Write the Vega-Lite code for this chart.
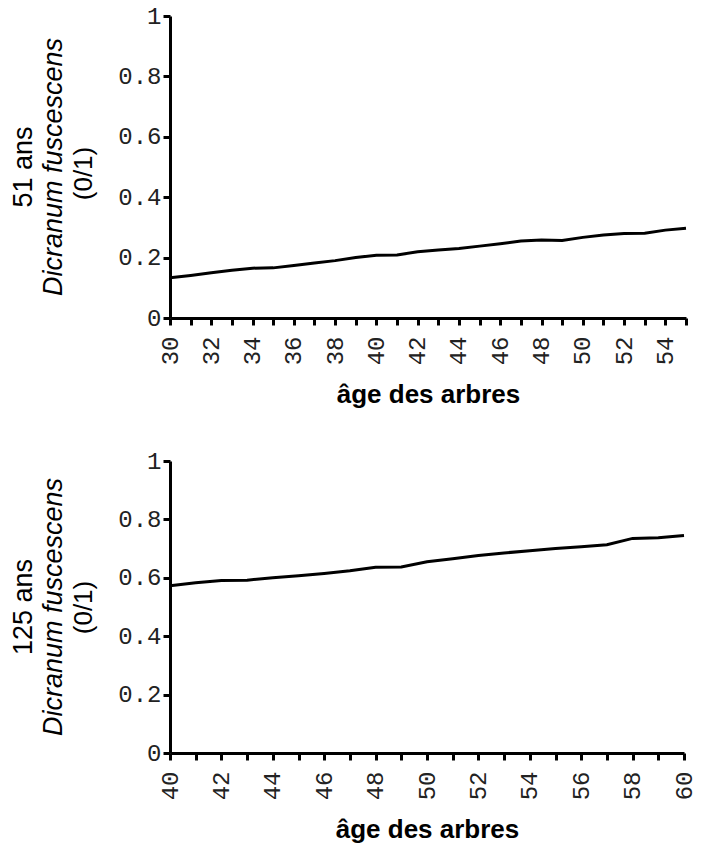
{
  "$schema": "https://vega.github.io/schema/vega-lite/v6.json",
  "background": "white",
  "padding": {"left": 9, "top": 4, "right": 10, "bottom": 0},
  "spacing": 41,
  "config": {
    "view": {"stroke": null},
    "axis": {
      "grid": false,
      "domainColor": "black",
      "domainWidth": 3,
      "tickColor": "black",
      "tickWidth": 3,
      "tickSize": 7,
      "labelFont": "Liberation Mono",
      "labelFontSize": 24,
      "labelColor": "#222",
      "titleFont": "Liberation Sans",
      "titleFontSize": 26,
      "titleColor": "black"
    },
    "title": {"font": "Liberation Sans", "fontSize": 27, "fontWeight": "normal", "color": "black", "subtitleFont": "Liberation Sans", "subtitleFontSize": 27, "subtitleFontStyle": "italic", "subtitleColor": "black"}
  },
  "vconcat": [
    {
      "width": 516,
      "height": 302,
      "title": {"text": "51 ans", "subtitle": "Dicranum fuscescens", "orient": "left", "anchor": "middle", "offset": 3, "subtitlePadding": 3},
      "data": {"values": [
        {"age": 30, "p": 0.133}, {"age": 31, "p": 0.141}, {"age": 32, "p": 0.150}, {"age": 33, "p": 0.158},
        {"age": 34, "p": 0.165}, {"age": 35, "p": 0.166}, {"age": 36, "p": 0.174}, {"age": 37, "p": 0.182},
        {"age": 38, "p": 0.190}, {"age": 39, "p": 0.200}, {"age": 40, "p": 0.208}, {"age": 41, "p": 0.209},
        {"age": 42, "p": 0.219}, {"age": 43, "p": 0.225}, {"age": 44, "p": 0.230}, {"age": 45, "p": 0.238},
        {"age": 46, "p": 0.246}, {"age": 47, "p": 0.255}, {"age": 48, "p": 0.258}, {"age": 49, "p": 0.257},
        {"age": 50, "p": 0.267}, {"age": 51, "p": 0.275}, {"age": 52, "p": 0.280}, {"age": 53, "p": 0.281},
        {"age": 54, "p": 0.291}, {"age": 55, "p": 0.297}
      ]},
      "mark": {"type": "line", "color": "black", "strokeWidth": 3},
      "encoding": {
        "x": {"field": "age", "type": "quantitative", "scale": {"domain": [30, 55], "nice": false, "zero": false},
          "axis": {"title": "âge des arbres", "titleFontWeight": "bold", "titlePadding": 17, "labelAngle": -90, "labelPadding": 11,
            "domainWidth": 3, "tickWidth": 3, "tickSize": 7, "domainColor": "black", "tickColor": "black",
            "values": [30,31,32,33,34,35,36,37,38,39,40,41,42,43,44,45,46,47,48,49,50,51,52,53,54,55],
            "labelExpr": "datum.value % 2 == 0 ? datum.label : ''", "labelOverlap": false, "labelFlush": false}},
        "y": {"field": "p", "type": "quantitative", "scale": {"domain": [0, 1], "nice": false},
          "axis": {"title": "(0/1)", "titleFontWeight": "normal", "titlePadding": 21, "titleY": 157, "values": [0, 0.2, 0.4, 0.6, 0.8, 1],
            "domainWidth": 3, "tickWidth": 3, "tickSize": 7, "domainColor": "black", "tickColor": "black",
            "labelExpr": "datum.value == 0 ? '0' : datum.value == 1 ? '1' : format(datum.value, '.1f')", "labelPadding": 2, "labelFlush": false}}
      }
    },
    {
      "width": 514,
      "height": 292,
      "title": {"text": "125 ans", "subtitle": "Dicranum fuscescens", "orient": "left", "anchor": "middle", "offset": 3, "subtitlePadding": 3},
      "data": {"values": [
        {"age": 40, "p": 0.573}, {"age": 41, "p": 0.583}, {"age": 42, "p": 0.591}, {"age": 43, "p": 0.592},
        {"age": 44, "p": 0.600}, {"age": 45, "p": 0.607}, {"age": 46, "p": 0.615}, {"age": 47, "p": 0.624},
        {"age": 48, "p": 0.636}, {"age": 49, "p": 0.637}, {"age": 50, "p": 0.655}, {"age": 51, "p": 0.665},
        {"age": 52, "p": 0.676}, {"age": 53, "p": 0.685}, {"age": 54, "p": 0.693}, {"age": 55, "p": 0.700},
        {"age": 56, "p": 0.706}, {"age": 57, "p": 0.713}, {"age": 58, "p": 0.735}, {"age": 59, "p": 0.737},
        {"age": 60, "p": 0.745}
      ]},
      "mark": {"type": "line", "color": "black", "strokeWidth": 3},
      "encoding": {
        "x": {"field": "age", "type": "quantitative", "scale": {"domain": [40, 60], "nice": false, "zero": false},
          "axis": {"title": "âge des arbres", "titleFontWeight": "bold", "titlePadding": 17, "labelAngle": -90, "labelPadding": 11,
            "domainWidth": 3, "tickWidth": 3, "tickSize": 7, "domainColor": "black", "tickColor": "black",
            "values": [40,41,42,43,44,45,46,47,48,49,50,51,52,53,54,55,56,57,58,59,60],
            "labelExpr": "datum.value % 2 == 0 ? datum.label : ''", "labelOverlap": false, "labelFlush": false}},
        "y": {"field": "p", "type": "quantitative", "scale": {"domain": [0, 1], "nice": false},
          "axis": {"title": "(0/1)", "titleFontWeight": "normal", "titlePadding": 21, "values": [0, 0.2, 0.4, 0.6, 0.8, 1],
            "domainWidth": 3, "tickWidth": 3, "tickSize": 7, "domainColor": "black", "tickColor": "black",
            "labelExpr": "datum.value == 0 ? '0' : datum.value == 1 ? '1' : format(datum.value, '.1f')", "labelPadding": 2, "labelFlush": false}}
      }
    }
  ]
}
